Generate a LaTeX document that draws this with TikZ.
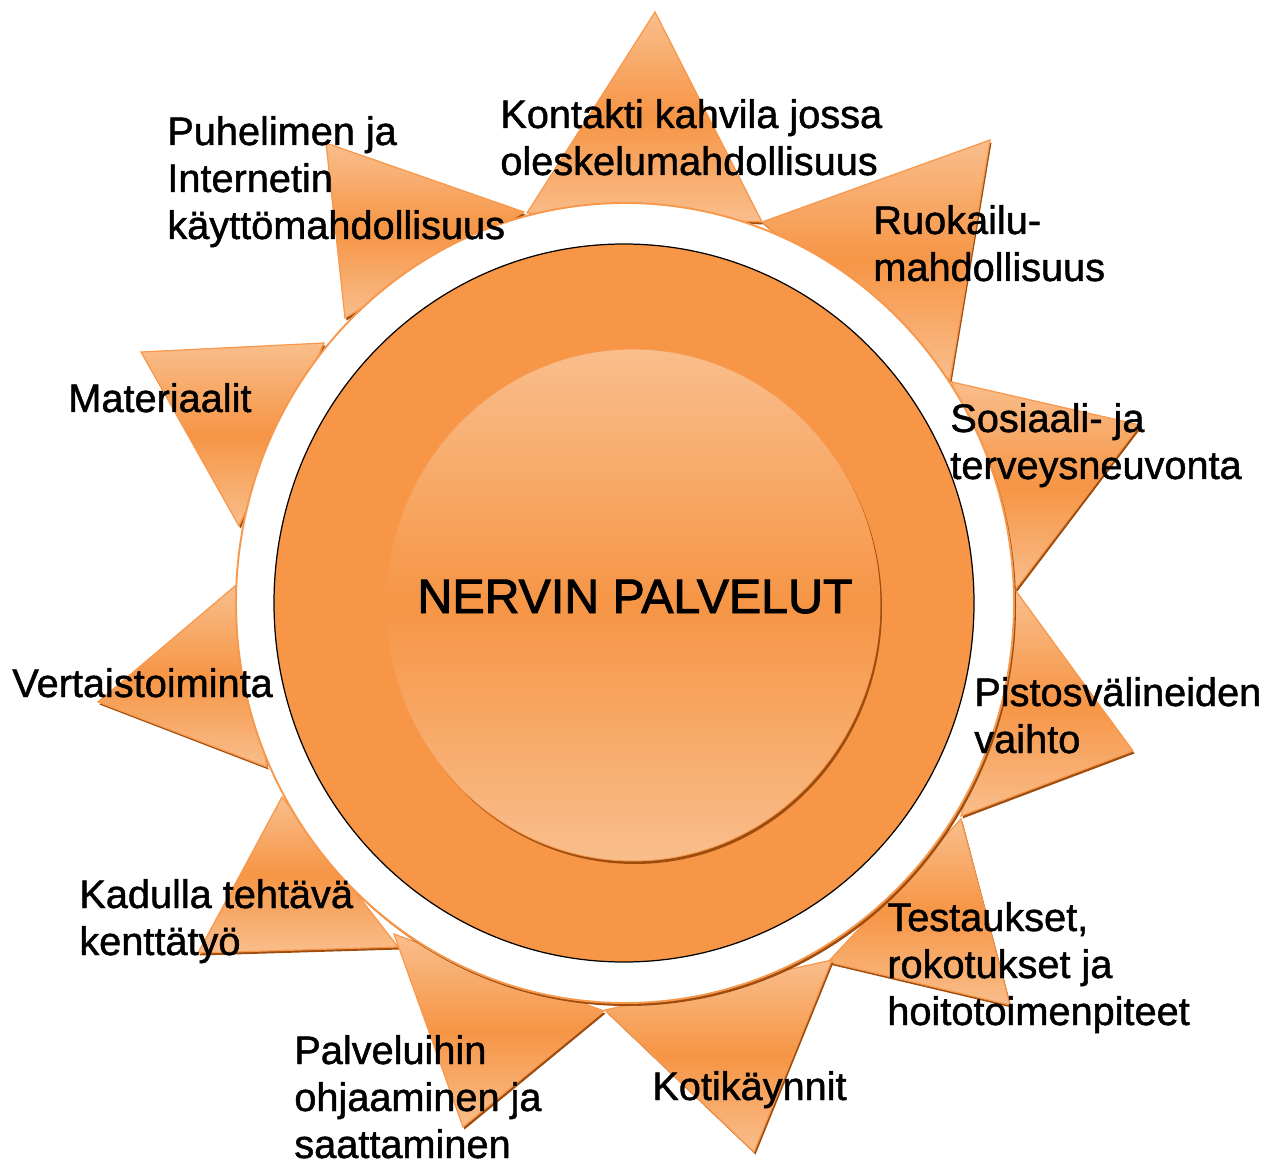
\documentclass[tikz,border=0pt]{standalone}
\usepackage{fontspec}
\setmainfont{Liberation Sans}
\newfontfamily\sunfont[FakeBold=1.2]{Liberation Sans}
\newfontfamily\suntitlefont[FakeBold=2]{Liberation Sans}
\definecolor{sunorange}{HTML}{F79646}
\definecolor{sunlight}{HTML}{F9BE8C}
\definecolor{sunmid}{HTML}{F69545}
\definecolor{sunshadow}{HTML}{9E4D0E}
\definecolor{rimline}{HTML}{F7984C}
\newcommand{\lns}[1]{\begin{tabular}[t]{@{}l@{}}#1\end{tabular}}
\newcommand{\sunray}[3]{%
  \fill[sunshadow, shift={(1.5,2.5)}] #1 -- #2 -- #3 -- cycle;
  \path[ray] #1 -- #2 -- #3 -- cycle;}
\begin{document}
\begin{tikzpicture}[x=0.02cm, y=-0.02cm,
  ray/.style={top color=sunlight, bottom color=sunlight, middle color=sunmid, draw=rimline, line width=0.7pt},
  lbl/.style={anchor=base west, inner sep=0pt, font=\sunfont\fontsize{22.6}{26.75}\selectfont},
  titletext/.style={anchor=base, inner sep=0pt, font=\suntitlefont\fontsize{27.5}{33}\selectfont}]
\useasboundingbox (0,0) rectangle (1272,1162);
% rays
\sunray{(655,12)}{(527,213)}{(762,222)}     % Kontakti
\sunray{(990,140)}{(762,222)}{(950,380)}    % Ruokailu
\sunray{(1140,425)}{(952,382)}{(1015,590)}  % Sosiaali
\sunray{(1133,751)}{(1016,591)}{(961,816)}  % Pistos
\sunray{(1010,1005)}{(961,819)}{(828,962)}  % Testaukset
\sunray{(754,1152)}{(832,960)}{(605,1010)}  % Koti
\sunray{(198,953)}{(398,947)}{(282,797)}    % Kadulla
\sunray{(463,1127)}{(604,1011)}{(394,934)}  % Palveluihin
\sunray{(98,702)}{(267,767)}{(235,586)}     % Vertais
\sunray{(141,352)}{(239,526)}{(324,343)}    % Materiaalit
\sunray{(326,143)}{(345,318)}{(524,212)}    % Puhelimen
% white ring
\fill[sunshadow] (627,606) ellipse [x radius=389, y radius=400];
\draw[rimline, line width=1.1pt, fill=white] (625,603) ellipse [x radius=389, y radius=400];
% orange ring
\draw[black, line width=0.7pt, fill=sunorange] (624,603) ellipse [x radius=350, y radius=359];
% inner disc
\fill[sunshadow] (635,608) ellipse [x radius=247, y radius=256];
\path[top color=sunlight, bottom color=sunlight, middle color=sunmid, draw=rimline, line width=0.5pt]
  (633,605) ellipse [x radius=247, y radius=256];
% texts
\node[titletext] (title) at (635,613) {NERVIN PALVELUT};
\node[lbl] (kontakti) at (500,128) {\lns{Kontakti kahvila jossa\\oleskelumahdollisuus}};
\node[lbl] (puhelin) at (167,145) {\lns{Puhelimen ja\\Internetin\\käyttömahdollisuus}};
\node[lbl] (ruoka) at (873,234) {\lns{Ruokailu-\\mahdollisuus}};
\node[lbl] (sosiaali) at (950,432) {\lns{Sosiaali- ja\\terveysneuvonta}};
\node[lbl] (pistos) at (974,706) {\lns{Pistosvälineiden\\vaihto}};
\node[lbl] (testaus) at (887,931) {\lns{Testaukset,\\rokotukset ja\\hoitotoimenpiteet}};
\node[lbl] (koti) at (652,1100) {Kotikäynnit};
\node[lbl] (palvelu) at (294,1064) {\lns{Palveluihin\\ohjaaminen ja\\saattaminen}};
\node[lbl] (kadulla) at (79,908) {\lns{Kadulla tehtävä\\kenttätyö}};
\node[lbl] (vertais) at (12,697) {Vertaistoiminta};
\node[lbl] (materiaalit) at (68,412) {Materiaalit};
\end{tikzpicture}
\end{document}
